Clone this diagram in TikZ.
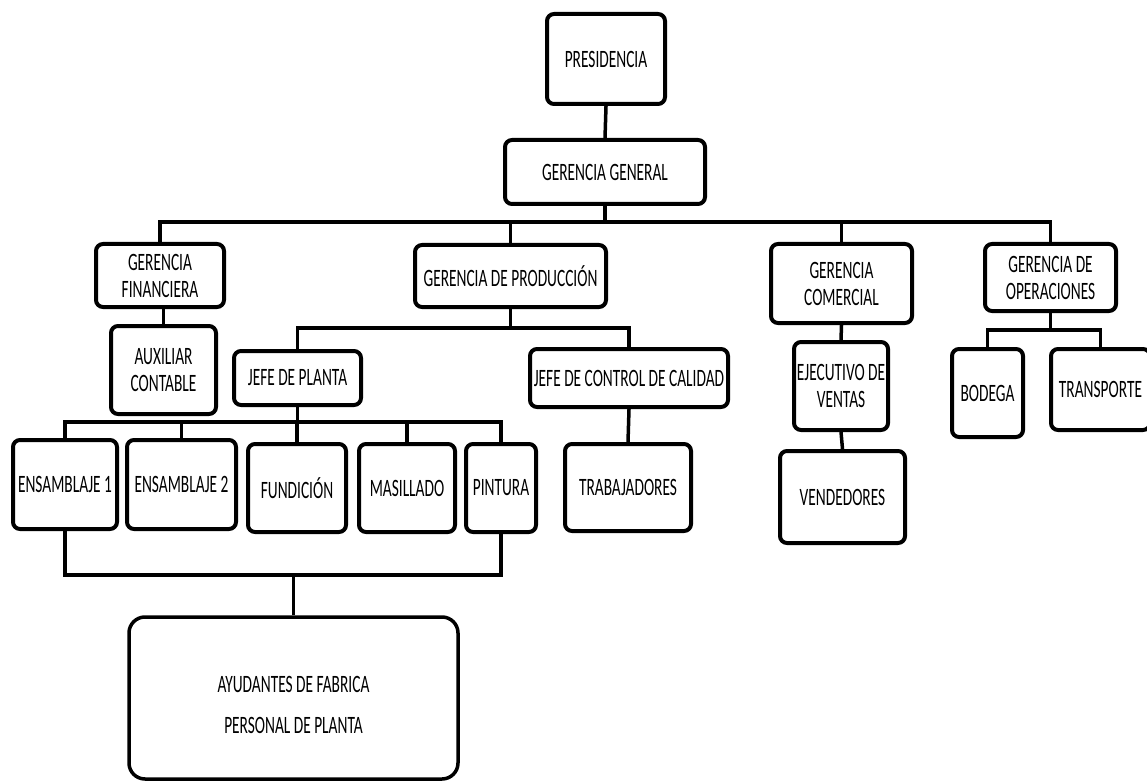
\documentclass[tikz,border=0pt]{standalone}
\usepackage{fontspec}
\setmainfont{Carlito}[FakeStretch=0.615]
\begin{document}
\begin{tikzpicture}[x=1pt,y=-1pt,
  box/.style={draw=black, line width=4pt, rounded corners=7pt, align=center,
    inner sep=0pt, font=\fontsize{25}{27}\selectfont},
  bigbox/.style={draw=black, line width=3.5pt, rounded corners=16pt, inner sep=0pt},
  txt/.style={align=center, inner sep=0pt, font=\fontsize{25}{27}\selectfont},
  conn/.style={draw=black, line width=3.5pt}]
\useasboundingbox (0,0) rectangle (1147,783);
% level 0-1
\node[box, minimum width=118pt, minimum height=90pt] (pres) at (606,59) {PRESIDENCIA};
\node[box, minimum width=200pt, minimum height=64pt] (gg) at (605,172) {GERENCIA GENERAL};
% level 2
\node[box, minimum width=128pt, minimum height=63pt] (gf) at (160,275.5) {GERENCIA\\FINANCIERA};
\node[box, minimum width=191pt, minimum height=62pt] (gp) at (510.5,276) {GERENCIA DE PRODUCCIÓN};
\node[box, minimum width=141pt, minimum height=79pt] (gc) at (841.5,283.5) {GERENCIA\\COMERCIAL};
\node[box, minimum width=131pt, minimum height=67pt] (go) at (1050.5,277.5) {GERENCIA DE\\OPERACIONES};
% level 3
\node[box, minimum width=105pt, minimum height=88pt] (ac) at (163.5,370) {AUXILIAR\\CONTABLE};
\node[box, minimum width=127pt, minimum height=54pt] (jp) at (297.5,378) {JEFE DE PLANTA};
\node[box, minimum width=198pt, minimum height=58pt] (jcc) at (629,378) {JEFE DE CONTROL DE CALIDAD};
\node[box, minimum width=94pt, minimum height=88pt] (ev) at (841,386) {EJECUTIVO DE\\VENTAS};
\node[box, minimum width=71pt, minimum height=88pt] (bod) at (987.5,393) {BODEGA};
\node[box, minimum width=99pt, minimum height=81pt] (tra) at (1100.5,389.5) {TRANSPORTE};
% level 4
\node[box, minimum width=104pt, minimum height=89pt] (e1) at (65,484.5) {ENSAMBLAJE 1};
\node[box, minimum width=109pt, minimum height=89pt] (e2) at (181.5,484.5) {ENSAMBLAJE 2};
\node[box, minimum width=98pt, minimum height=88pt] (fun) at (297,488) {FUNDICIÓN};
\node[box, minimum width=96pt, minimum height=88pt] (mas) at (407,488) {MASILLADO};
\node[box, minimum width=70pt, minimum height=88pt] (pin) at (501,488) {PINTURA};
\node[box, minimum width=126pt, minimum height=87pt] (trab) at (628,487.5) {TRABAJADORES};
\node[box, minimum width=125pt, minimum height=92pt] (vend) at (842.5,497) {VENDEDORES};
% level 5
\node[bigbox, minimum width=329pt, minimum height=162pt] (ay) at (293.5,698) {};
\node[txt] (ayt) at (293.5,705) {AYUDANTES DE FABRICA\\[14pt]PERSONAL DE PLANTA};
% connector rails
\coordinate (b1) at (0,222);
\coordinate (b2) at (0,328);
\coordinate (b3) at (0,330);
\coordinate (b4) at (0,422);
\coordinate (b5) at (0,575);
% connectors
\draw[conn] (pres.south) -- (gg.north);
\draw[conn] (gg.south) -- (gg.south |- b1);
\draw[conn] (gf.north) |- (go.north |- b1) -- (go.north);
\draw[conn] (gp.north) -- (gp.north |- b1);
\draw[conn] (gc.north) -- (gc.north |- b1);
\draw[conn] (ac.north) -- (ac.north |- gf.south);
\draw[conn] (gp.south) -- (gp.south |- b2);
\draw[conn] (jp.north) |- (jcc.north |- b2) -- (jcc.north);
\draw[conn] (jcc.south) -- (trab.north);
\draw[conn] (gc.south) -- (ev.north);
\draw[conn] (ev.south) -- (vend.north);
\draw[conn] (go.south) -- (go.south |- b3);
\draw[conn] (bod.north) |- (tra.north |- b3) -- (tra.north);
\draw[conn] (jp.south) -- (jp.south |- b4);
\draw[conn] (e1.north) |- (pin.north |- b4) -- (pin.north);
\draw[conn] (e2.north) -- (e2.north |- b4);
\draw[conn] (fun.north) -- (fun.north |- b4);
\draw[conn] (mas.north) -- (mas.north |- b4);
\draw[conn] (e1.south) |- (pin.south |- b5) -- (pin.south);
\draw[conn] (ay.north) -- (ay.north |- b5);
\end{tikzpicture}
\end{document}
